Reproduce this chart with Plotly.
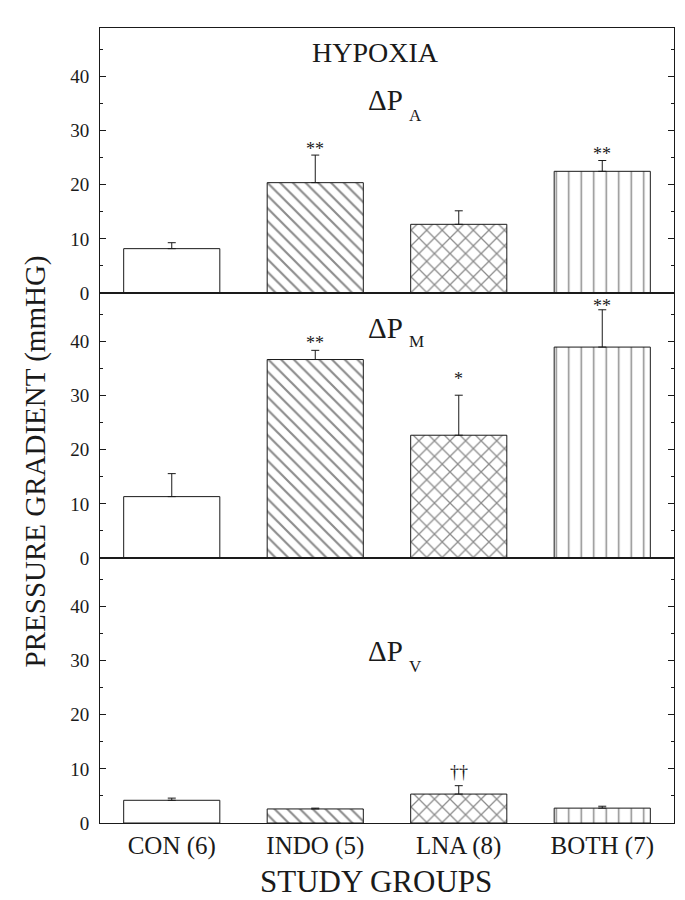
import plotly.graph_objects as go
from plotly.subplots import make_subplots

groups = ["CON (6)", "INDO (5)", "LNA (8)", "BOTH (7)"]

dpa = [8.2, 20.4, 12.7, 22.5]
dpa_err = [1.1, 5.1, 2.5, 2.0]

dpm = [11.35, 36.7, 22.7, 39.0]
dpm_err = [4.25, 1.7, 7.4, 6.9]

dpv = [4.2, 2.6, 5.35, 2.75]
dpv_err = [0.4, 0.15, 1.55, 0.35]

panel_subs = ["A", "M", "V"]
panel_label_y = [35.7, 42.5, 31.8]
panel_sub_y = [32.9, 40.1, 28.9]
sig_a = [("INDO (5)", 27.3, "**"), ("BOTH (7)", 26.4, "**")]
sig_m = [("INDO (5)", 40.5, "**"), ("LNA (8)", 33.9, "*"), ("BOTH (7)", 47.3, "**")]
sig_v = [("LNA (8)", 10.2, "††")]

INK = "#1a1a1a"
FONT = "Liberation Serif"

patterns = ["", "\\", "x", "|"]
psizes = [8, 9, 11, 12.5]
psolid = [0.1, 0.24, 0.22, 0.12]

fig = make_subplots(rows=3, cols=1, shared_xaxes=True, vertical_spacing=0)

for row, (vals, errs) in enumerate([(dpa, dpa_err), (dpm, dpm_err), (dpv, dpv_err)], start=1):
    fig.add_trace(go.Bar(
        x=groups, y=vals, width=0.67,
        marker=dict(color="white", line=dict(color=INK, width=1),
                    pattern=dict(shape=patterns, size=psizes, solidity=psolid,
                                 fgcolor=INK, bgcolor="white", fillmode="overlay")),
        error_y=dict(type="data", array=errs, arrayminus=[0] * len(errs), symmetric=False,
                     color=INK, thickness=1, width=4),
        hoverinfo="skip", showlegend=False,
    ), row=row, col=1)

for row in (1, 2, 3):
    fig.update_yaxes(range=[0, 49], tickvals=[0, 10, 20, 30, 40], ticks="inside", ticklen=6,
                     tickcolor=INK, showline=True, linecolor=INK, linewidth=1, mirror="ticks",
                     showgrid=False, zeroline=False, ticklabelstandoff=6,
                     minor=dict(dtick=5, ticks="inside", ticklen=3, tickcolor=INK, showgrid=False),
                     tickfont=dict(family=FONT, size=19, color=INK), row=row, col=1)
    fig.update_xaxes(showline=True, linecolor=INK, linewidth=1, mirror=True, ticks="",
                     showgrid=False, range=[-0.5, 3.5], row=row, col=1)

fig.update_xaxes(tickfont=dict(family=FONT, size=25, color=INK), row=3, col=1)

ann = []
ann.append(dict(x=1.42, y=44.5, xref="x", yref="y", text="HYPOXIA", showarrow=False,
                font=dict(family=FONT, size=28, color=INK), xanchor="center", yanchor="middle"))
for i, (lab, yv, ys) in enumerate(zip(panel_subs, panel_label_y, panel_sub_y)):
    xr = "x" if i == 0 else f"x{i+1}"
    yr = "y" if i == 0 else f"y{i+1}"
    ann.append(dict(x=1.355, y=yv, xref=xr, yref=yr, text="ΔP",
                    showarrow=False, font=dict(family=FONT, size=29, color=INK),
                    xanchor="left", yanchor="middle"))
    ann.append(dict(x=1.64, y=ys, xref=xr, yref=yr, text=lab,
                    showarrow=False, font=dict(family=FONT, size=17, color=INK),
                    xanchor="left", yanchor="middle"))
for i, sigs in enumerate([sig_a, sig_m, sig_v]):
    xr = "x" if i == 0 else f"x{i+1}"
    yr = "y" if i == 0 else f"y{i+1}"
    for g, yv, t in sigs:
        ann.append(dict(x=g, y=yv, xref=xr, yref=yr, text=t, showarrow=False,
                        font=dict(family=FONT, size=18, color=INK),
                        xanchor="center", yanchor="middle", yshift=-4))

ann.append(dict(x=-0.113, y=0.455, xref="paper", yref="paper", text="PRESSURE GRADIENT (mmHG)",
                textangle=-90, showarrow=False, font=dict(family=FONT, size=29, color=INK),
                xanchor="center", yanchor="middle"))
ann.append(dict(x=0.48, y=-0.073, xref="paper", yref="paper", text="STUDY GROUPS",
                showarrow=False, font=dict(family=FONT, size=31, color=INK),
                xanchor="center", yanchor="middle"))

fig.update_layout(width=685, height=900, margin=dict(l=92, r=19, t=20, b=85),
                  plot_bgcolor="white", paper_bgcolor="white", annotations=ann,
                  font=dict(family=FONT, color=INK))

fig.write_html("out.html")
